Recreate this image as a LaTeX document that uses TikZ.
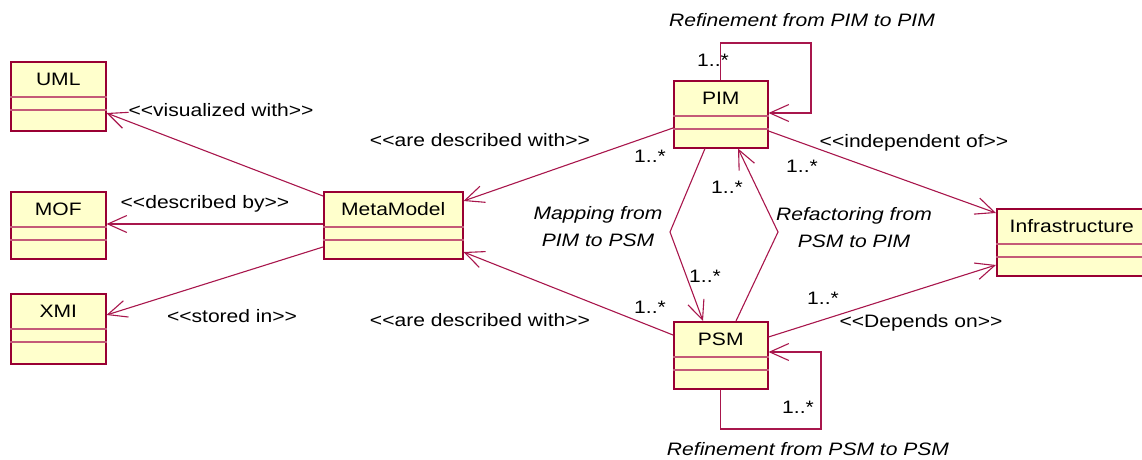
\documentclass[tikz,border=0pt]{standalone}
\usepackage{fontspec}
\setmainfont{Liberation Sans}[FakeStretch=1.17]
\usetikzlibrary{arrows.meta}
\definecolor{classborder}{RGB}{153,0,51}
\definecolor{classfill}{RGB}{255,255,204}
\definecolor{compline}{RGB}{196,90,120}
\definecolor{assoc}{RGB}{168,22,76}
\tikzset{
  classbox/.style={draw=classborder, fill=classfill, line width=1.5pt, rectangle, inner sep=0pt},
  classname/.style={font=\fontsize{18}{22}\selectfont, inner sep=0pt},
  compsep/.style={draw=compline, line width=1.2pt},
  assocline/.style={draw=assoc, line width=1.1pt},
  nav/.style={assocline, -{Straight Barb[length=19pt,width=17pt,line width=1.1pt]}},
  lbl/.style={font=\fontsize{18}{27}\selectfont, inner sep=0pt, align=center},
  ilbl/.style={lbl, font=\fontsize{18}{27}\selectfont\itshape},
  mult/.style={lbl},
}
% class box: name, left, top, width, height, title
\newcommand{\umlclass}[6]{%
  \node[classbox, minimum width=#4pt, minimum height=#5pt, anchor=north west] (#1) at (#2,#3) {};
  \node[classname] (#1-name) at ([yshift=-18pt]#1.north) {#6};
  \draw[compsep] ([yshift=-36pt]#1.north west) -- ([yshift=-36pt]#1.north east);
  \draw[compsep] ([yshift=-49pt]#1.north west) -- ([yshift=-49pt]#1.north east);
}
\begin{document}
\begin{tikzpicture}[x=1pt, y=-1pt]
\useasboundingbox (0,0) rectangle (1142,460);

% classes
\umlclass{uml}{10}{61}{95}{69}{UML}
\umlclass{mof}{10}{191}{95}{67}{MOF}
\umlclass{xmi}{10}{293}{95}{70}{XMI}
\umlclass{mm}{323}{191}{139}{67}{MetaModel}
\umlclass{pim}{673}{80}{94}{67}{PIM}
\umlclass{psm}{673}{321}{94}{67}{PSM}
\umlclass{infra}{996}{208}{150}{67}{Infrastructure}

% bends of the loops and of the mapping links
\coordinate (pimloop) at (811,43);
\coordinate (psmloop) at (821,429);
\coordinate (mapbend) at (670,232);
\coordinate (refbend) at (778,232);

% associations
\draw[nav] ([yshift=-5pt]mm.north west) -- ([yshift=-52pt]uml.north east);
\draw[nav] ([yshift=-33pt]mm.north west) -- ([yshift=-33pt]mof.north east);
\draw[nav] ([yshift=-56pt]mm.north west) -- ([yshift=-22pt]xmi.north east);
\draw[nav] ([yshift=-48pt]pim.north west) -- ([yshift=-10pt]mm.north east);
\draw[nav] ([yshift=-14pt]psm.north west) -- ([yshift=-61pt]mm.north east);
\draw[nav] ([yshift=-51pt]pim.north east) -- ([yshift=-5pt]infra.north west);
\draw[nav] ([yshift=-16pt]psm.north east) -- ([yshift=-57pt]infra.north west);
\draw[nav] ([xshift=32pt]pim.south west) -- (mapbend) -- ([xshift=30pt]psm.north west);
\draw[nav] ([xshift=63pt]psm.north west) -- (refbend) -- ([xshift=65pt]pim.south west);
\draw[nav] (pim.north) |- (pimloop) |- ([yshift=-33pt]pim.north east);
\draw[nav] (psm.south) |- (psmloop) |- ([yshift=-31pt]psm.north east);

% stereotypes
\node[lbl] (l-vis) at (221,110) {<{}<visualized with>{}>};
\node[lbl] (l-desc) at (205,204) {<{}<described by>{}>};
\node[lbl] (l-store) at (232,316) {<{}<stored in>{}>};
\node[lbl] (l-are1) at (480,140) {<{}<are described with>{}>};
\node[lbl] (l-are2) at (480,320) {<{}<are described with>{}>};
\node[lbl] (l-indep) at (914,143) {<{}<independent of>{}>};
\node[lbl] (l-dep) at (921,323) {<{}<Depends on>{}>};

% role names
\node[ilbl] (l-refpim) at (802,20) {Refinement from PIM to PIM};
\node[ilbl] (l-refpsm) at (808,449) {Refinement from PSM to PSM};
\node[ilbl] (l-map) at (598,227) {Mapping from\\PIM to PSM};
\node[ilbl] (l-refac) at (854,228) {Refactoring from\\PSM to PIM};

% multiplicities
\node[mult] (m1) at (713,60) {1..*};
\node[mult] (m2) at (650,156) {1..*};
\node[mult] (m3) at (802,166) {1..*};
\node[mult] (m4) at (727,187) {1..*};
\node[mult] (m5) at (705,276) {1..*};
\node[mult] (m6) at (650,307) {1..*};
\node[mult] (m7) at (823,298) {1..*};
\node[mult] (m8) at (798,407) {1..*};
\end{tikzpicture}
\end{document}
